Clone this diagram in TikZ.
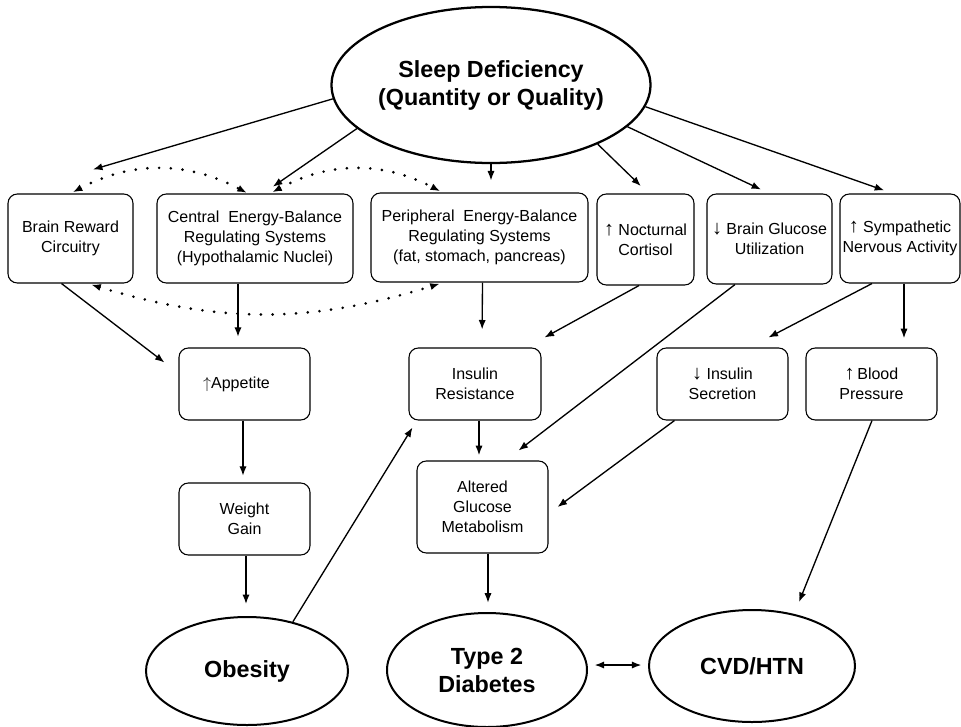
\documentclass[tikz,border=0pt]{standalone}
\usepackage{fontspec}
\setmainfont{Liberation Sans}
\usetikzlibrary{arrows.meta,positioning,calc,shapes.geometric}
\tikzset{
  >={Latex[length=2.5mm,width=1.9mm]},
  wh/.style 2 args={minimum width=#1*0.75pt,minimum height=#2*0.75pt},
  box/.style={draw,rounded corners=7pt,line width=0.8pt,inner sep=1pt,align=center,font=\fontsize{12}{15}\selectfont},
  oval/.style={draw,ellipse,line width=1.5pt,inner sep=0pt,align=center,font=\fontsize{17.5}{21}\selectfont\bfseries},
  arr/.style={->,line width=1pt},
  dots/.style={<->,line width=2.2pt,line cap=round,dash pattern=on 0pt off 8.8pt},
}
\newcommand{\upa}{{\fontsize{15}{15}\selectfont\bfseries ↑}}
\newcommand{\dna}{{\fontsize{15}{15}\selectfont\bfseries ↓}}

\begin{document}
\begin{tikzpicture}[x=0.75pt,y=-0.75pt]
\useasboundingbox (0,0) rectangle (961,726);
% top
\node[oval,wh={308}{156},line width=1.7pt] (sleep) at (491,85) {Sleep Deficiency\\(Quantity or Quality)};
% first row
\node[box,wh={125}{89}] (reward) at (70.5,238.5) {Brain Reward\\Circuitry};
\node[box,wh={196}{89}] (central) at (255,238.5) {Central~~Energy-Balance\\Regulating Systems\\(Hypothalamic Nuclei)};
\node[box,wh={217}{89}] (periph) at (479.5,237.5) {Peripheral~~Energy-Balance\\Regulating Systems\\(fat, stomach, pancreas)};
\node[box,wh={97}{91}] (cortisol) at (645.5,239.5) {\upa\ Nocturnal\\Cortisol};
\node[box,wh={125}{90}] (glucose) at (769.5,239) {\dna\ Brain Glucose\\Utilization};
\node[box,wh={120}{89}] (symp) at (900,238.5) {\upa\ Sympathetic\\Nervous Activity};
% second row
\node[box,wh={131}{72}] (appetite) at (244.5,384) {{\large$\uparrow$}Appetite\hspace{12pt}};
\node[box,wh={132}{72}] (insres) at (475,384) {Insulin\\Resistance};
\node[box,wh={131}{72}] (inssec) at (722.5,384) {\dna\ Insulin\\Secretion};
\node[box,wh={131}{72}] (bp) at (871.5,384) {\upa\,Blood\\Pressure};
% third row
\node[box,wh={131}{72}] (weight) at (244.5,519) {Weight\\Gain};
\node[box,wh={131}{92}] (altered) at (482.5,507) {Altered\\Glucose\\Metabolism};
% outcomes
\node[oval,wh={202}{108}] (obesity) at (247,671) {Obesity};
\node[oval,wh={200}{114}] (diabetes) at (487,670) {Type 2\\Diabetes};
\node[oval,wh={206}{112}] (cvd) at (752,666) {CVD/HTN};

\draw[arr] (sleep.185) -- ($(reward.north)+(22.5,-24)$);
\draw[arr,shorten >=9pt] (sleep.198) -- ($(central.north)+(8,0)$);
\draw[arr,shorten >=9pt] (sleep.south) -- (sleep.south |- periph.north);
\draw[arr,shorten >=8pt] (sleep.331) -- ($(cortisol.north)+(3,0)$);
\draw[arr,shorten >=7pt] (sleep.343) -- (glucose.north);
\draw[arr,shorten >=7pt] (sleep.352) -- ($(symp.north)+(-7,0)$);

\draw[dots,shorten <=2pt,shorten >=1pt] (reward.north) to[bend left=28] ($(central.north)+(-7,0)$);
\draw[dots,shorten <=2pt,shorten >=2pt] ($(central.north)+(15,0)$) to[bend left=28] ($(periph.north)+(-37,0)$);
\draw[dots,shorten <=3pt,shorten >=3pt] ($(reward.south)+(17,0)$) to[bend right=17] ($(periph.south)+(-36,0)$);

\draw[arr] ($(reward.south)+(-9,0)$) -- ($(appetite.north west)+(-14,15)$);
\draw[arr,shorten >=8pt] ($(central.south)+(-17,0)$) -- ($(appetite.north)+(-6.5,0)$);
\draw[arr,shorten >=13.5pt] ($(periph.south)+(3,0)$) -- ($(insres.north)+(7,0)$);
\draw[arr] ($(cortisol.south)+(-6.5,0)$) -- ($(insres.north east)+(3,-10)$);
\draw[arr] ($(glucose.south)+(-34.5,0)$) -- ($(altered.north east)+(-30,-10)$);
\draw[arr] ($(symp.south)+(-28,0)$) -- ($(inssec.north)+(46,-10)$);
\draw[arr,shorten >=7pt] ($(symp.south)+(4,0)$) -- ($(bp.north)+(32.5,0)$);

\draw[arr,shorten >=5pt] ($(appetite.south)+(-1.5,0)$) -- ($(weight.north)+(-1.5,0)$);
\draw[arr,shorten >=4pt] ($(insres.south)+(4,0)$) -- ($(altered.north)+(-3.5,0)$);
\draw[arr] ($(inssec.south west)+(18,0)$) -- ($(altered.east)+(9,0)$);
\draw[arr] ($(bp.south)+(0.5,0)$) -- ($(cvd.north)+(47,-7)$);

\draw[arr,shorten >=9pt] ($(weight.south)+(1.5,0)$) -- ($(obesity.north)+(-1,0)$);
\draw[arr] (obesity.47) -- ($(insres.south west)+(4,7)$);
\draw[arr,shorten >=7pt] ($(altered.south)+(5.5,0)$) -- ($(diabetes.north)+(1,0)$);
\draw[<->,line width=1pt,shorten <=5pt,shorten >=5pt] ($(diabetes.east)+(0,-5)$) -- ($(cvd.west)+(0,-1)$);
\end{tikzpicture}
\end{document}
